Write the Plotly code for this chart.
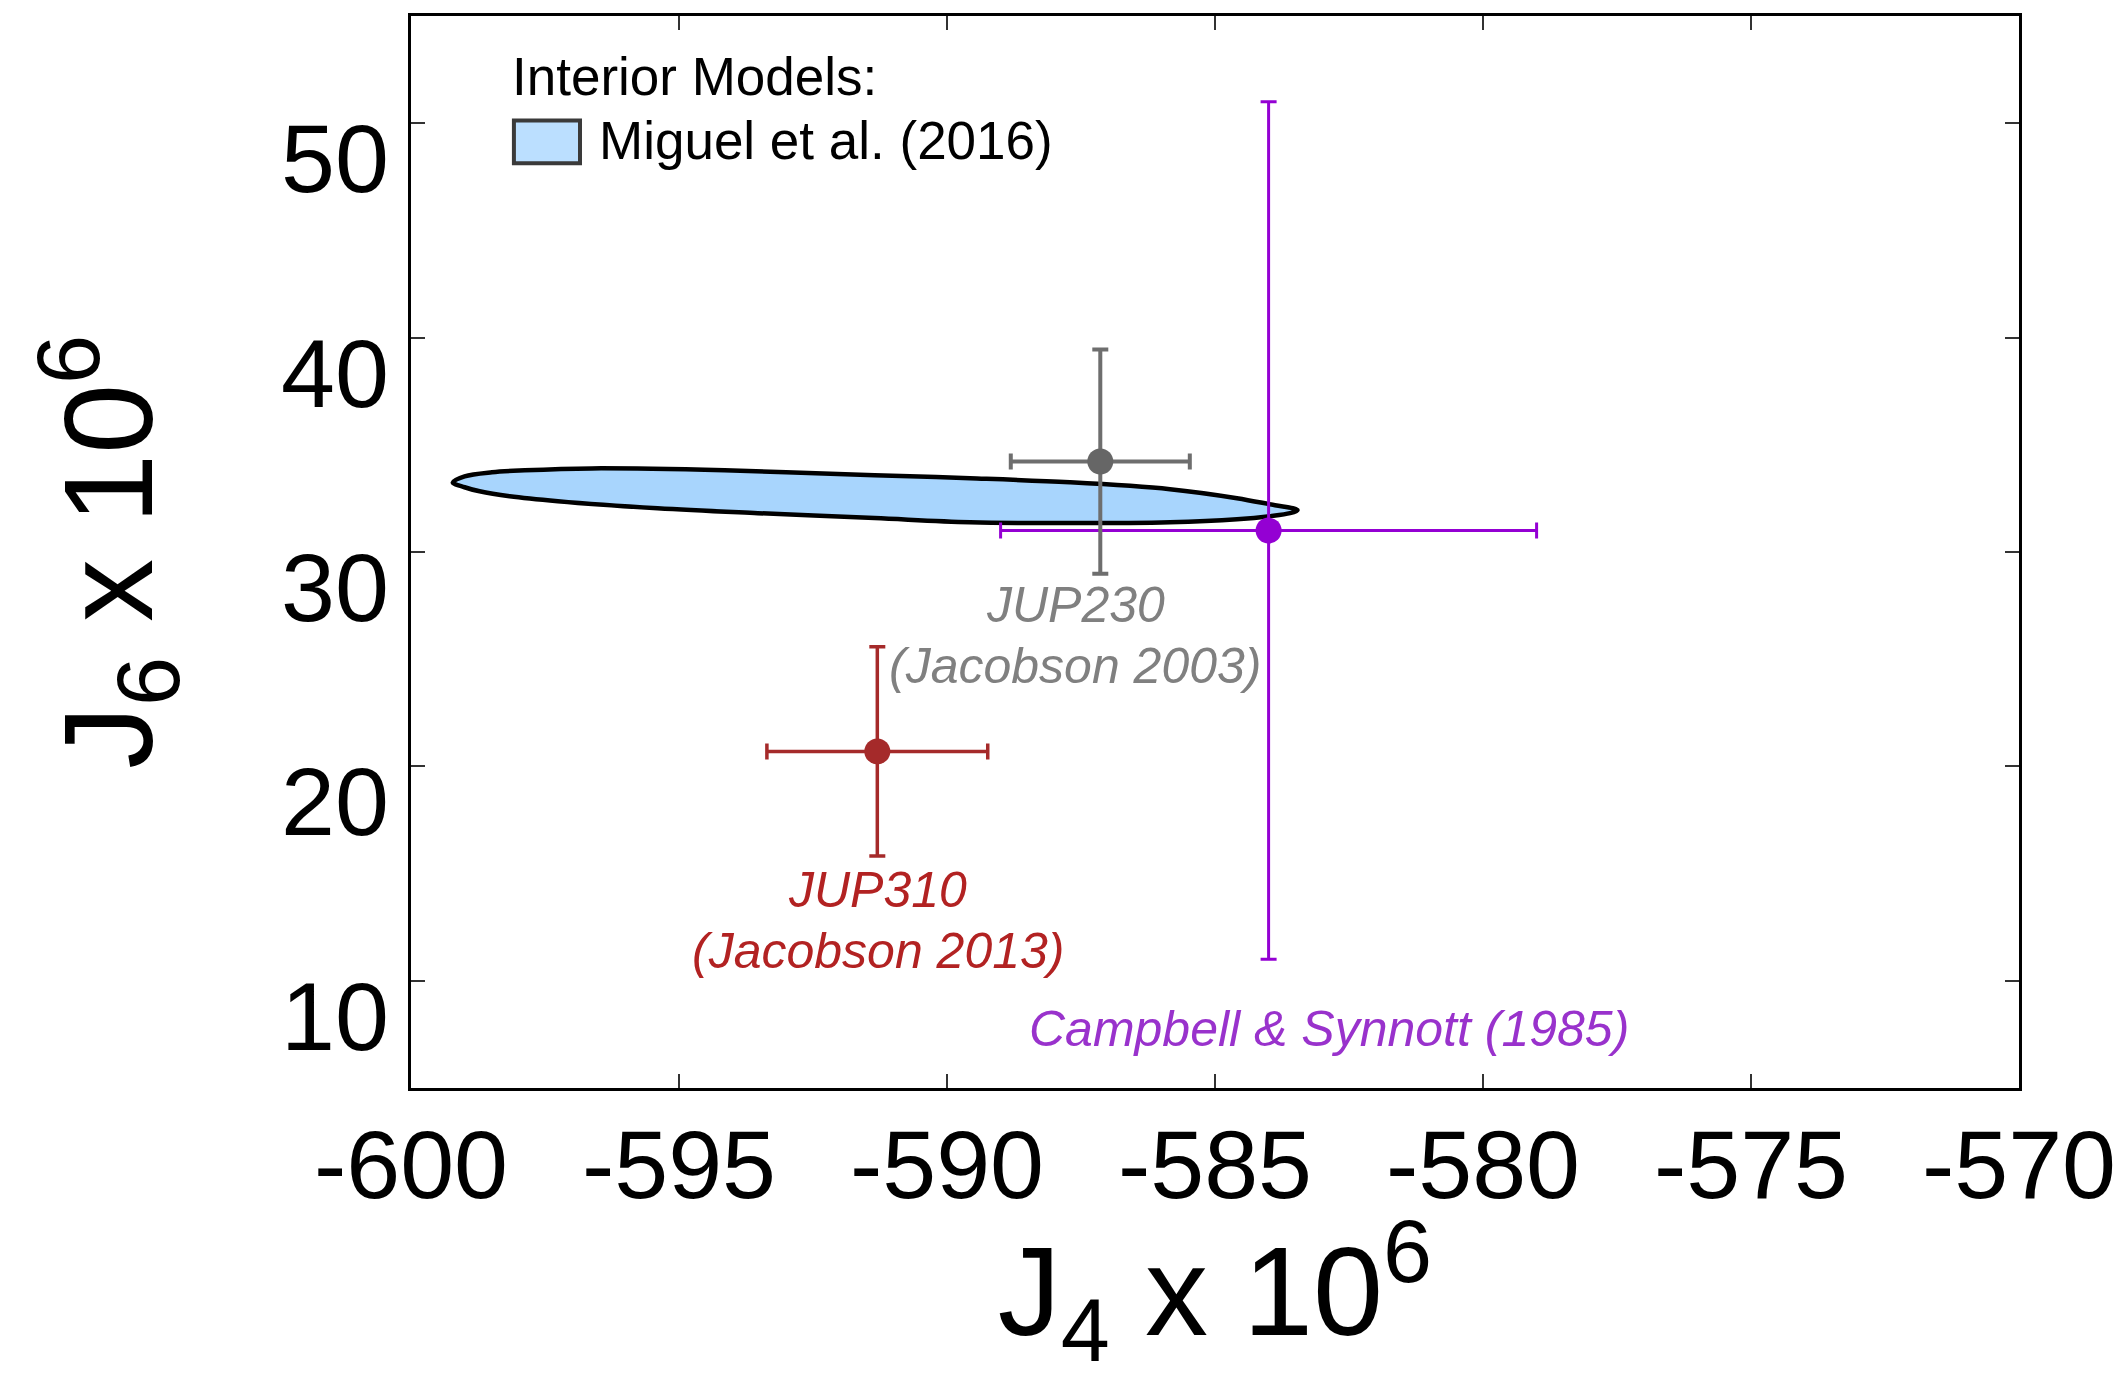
import plotly.graph_objects as go

# ---- data ----
obs_names = ["JUP230", "JUP310", "Campbell"]
obs_j4 = [-587.14, -591.30, -584.00]
obs_j4_err = [1.67, 2.06, 5.00]
obs_j6 = [34.22, 20.70, 31.00]
obs_j6_err = [5.23, 4.88, 20.00]
bar_colors = ["#6e6e6e", "#a52a2a", "#9400d3"]
dot_colors = ["#666666", "#a52a2a", "#9400d3"]
bar_thickness = [4, 3.5, 3]

# outline of the Miguel et al. (2016) interior-model region
model_j4 = [-599.22, -599.00, -598.49, -597.88, -596.63, -594.15, -591.35, -589.57,
            -587.71, -585.84, -584.59, -583.88, -583.55, -583.46,
            -583.60, -583.98, -584.59, -585.84, -587.71, -589.57, -591.35, -593.53,
            -595.40, -597.26, -598.16, -598.72, -599.00, -599.22]
model_j6 = [33.25, 33.53, 33.72, 33.81, 33.90, 33.81, 33.58, 33.44,
            33.25, 32.93, 32.51, 32.18, 32.04, 31.95,
            31.81, 31.67, 31.53, 31.39, 31.35, 31.39, 31.58, 31.81,
            32.04, 32.37, 32.60, 32.83, 33.02, 33.25]

x_ticks = [-600, -595, -590, -585, -580, -575, -570]
y_ticks = [10, 20, 30, 40, 50]
x_range = [-600, -570]
y_range = [5, 55]

FONT = "Helvetica, 'Liberation Sans', Arial, sans-serif"

fig = go.Figure()

fig.add_trace(go.Scatter(
    x=model_j4, y=model_j6, mode="lines", fill="toself",
    fillcolor="#a8d5fd", line=dict(color="black", width=4.5, shape="spline", smoothing=1.0),
    showlegend=False, hoverinfo="skip"))

# draw order: red, purple, gray
for i in [1, 2, 0]:
    fig.add_trace(go.Scatter(
        x=[obs_j4[i]], y=[obs_j6[i]], mode="markers",
        marker=dict(size=26, color=dot_colors[i]),
        error_x=dict(type="data", array=[obs_j4_err[i]], color=bar_colors[i],
                     thickness=bar_thickness[i], width=8),
        error_y=dict(type="data", array=[obs_j6_err[i]], color=bar_colors[i],
                     thickness=bar_thickness[i], width=8),
        showlegend=False, name=obs_names[i]))

ann_font = lambda c: dict(family=FONT, size=50, color=c)
labels = [
    ("<i>JUP230</i>", -587.61, 27.53, "#808080"),
    ("<i>(Jacobson 2003)</i>", -587.61, 24.70, "#808080"),
    ("<i>JUP310</i>", -591.29, 14.24, "#b22222"),
    ("<i>(Jacobson 2013)</i>", -591.29, 11.40, "#b22222"),
    ("<i>Campbell & Synnott (1985)</i>", -582.87, 7.77, "#9932cc"),
]
for txt, x, y, c in labels:
    fig.add_annotation(x=x, y=y, xref="x", yref="y", text=txt, showarrow=False,
                       font=ann_font(c), xanchor="center", yanchor="middle")

# legend (custom)
fig.add_annotation(x=0.0616, y=0.9435, xref="paper", yref="paper", text="Interior Models:",
                   showarrow=False, xanchor="left", yanchor="middle",
                   font=dict(family=FONT, size=53, color="black"))
fig.add_annotation(x=0.1157, y=0.884, xref="paper", yref="paper", text="Miguel et al. (2016)",
                   showarrow=False, xanchor="left", yanchor="middle",
                   font=dict(family=FONT, size=53, color="black"))
fig.add_shape(type="rect", xref="paper", yref="paper", x0=0.0640, x1=0.1051, y0=0.8626, y1=0.9025,
              fillcolor="#bbdfff", line=dict(color="#3a3a3a", width=4))

axis_common = dict(showline=True, linecolor="black", linewidth=2.5, mirror="ticks",
                   ticks="inside", ticklen=14, tickwidth=1.5, tickcolor="#333333",
                   showgrid=False, zeroline=False,
                   tickfont=dict(family=FONT, size=97, color="black"))

fig.update_layout(
    width=2120, height=1372,
    margin=dict(l=403, r=109, t=5, b=292),
    paper_bgcolor="white", plot_bgcolor="white",
    xaxis=dict(range=x_range, tickvals=x_ticks, ticktext=[str(v) for v in x_ticks],
               ticklabelstandoff=-9,
               title=dict(text="J<sub>4</sub> x 10<sup>6</sup>", standoff=30,
                          font=dict(family=FONT, size=126, color="black")),
               **axis_common),
    yaxis=dict(range=y_range, tickvals=y_ticks, ticktext=[str(v) for v in y_ticks],
               ticklabelshift=35,
               title=dict(text="J<sub>6</sub> x 10<sup>6</sup>", standoff=86,
                          font=dict(family=FONT, size=126, color="black")),
               **axis_common),
)

fig.write_html("out.html")
